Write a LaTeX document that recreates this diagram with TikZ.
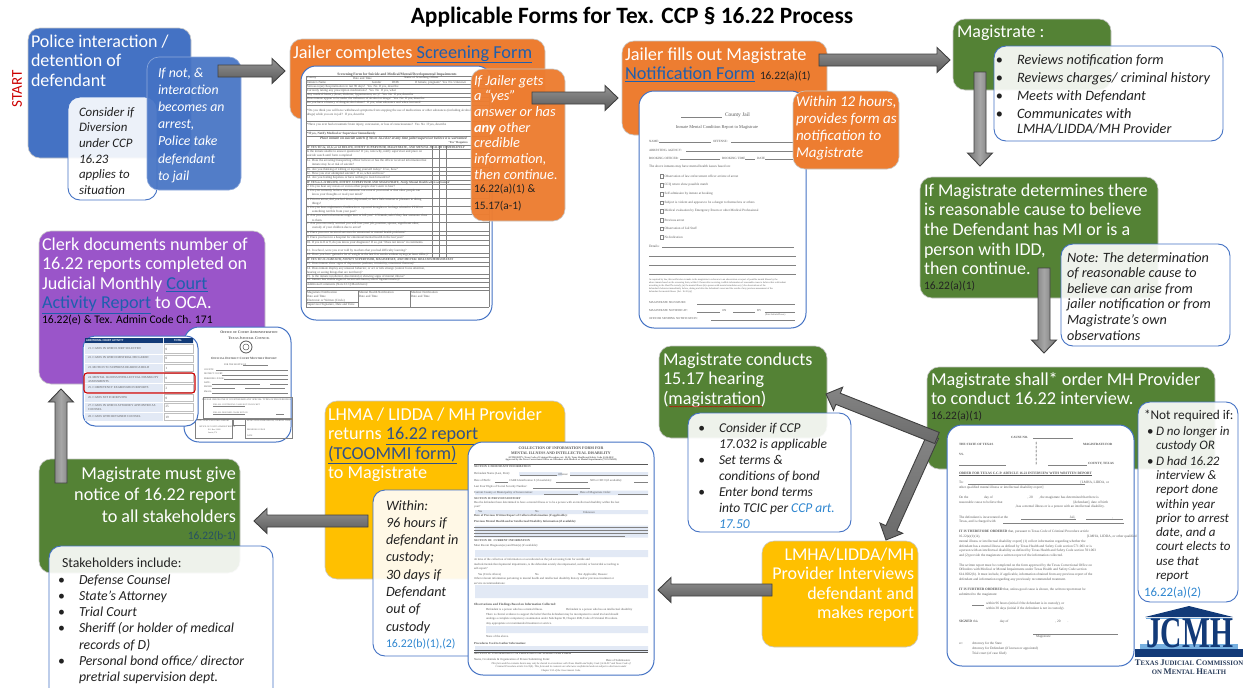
\documentclass[tikz,border=0pt]{standalone}
\usepackage{fontspec}
\setmainfont{Carlito}
\newfontfamily\formfont{Liberation Serif}
\usetikzlibrary{calc,decorations.pathmorphing}
\definecolor{cblue}{HTML}{4472C4}
\definecolor{corange}{HTML}{ED7D31}
\definecolor{cgreen}{HTML}{548235}
\definecolor{cyellow}{HTML}{FFC000}
\definecolor{cpurple}{HTML}{9A55C9}
\definecolor{cdark}{HTML}{222222}
\definecolor{clink}{HTML}{1F5FAE}
\definecolor{cref}{HTML}{2E86D0}
\definecolor{cnavy}{HTML}{123A78}
\definecolor{cform}{HTML}{585858}
\definecolor{cstripe}{HTML}{E2E9F5}
\tikzset{
  boxb/.style={anchor=north west,inner sep=0pt,outer sep=0pt,rounded corners=12pt,draw=black!22,line width=.6pt},
  sblue/.style={fill=cblue},
  sorange/.style={fill=corange},
  sgreen/.style={fill=cgreen},
  syellow/.style={fill=cyellow},
  spurple/.style={fill=cpurple},
  note/.style={fill=white,fill opacity=.9,draw=cblue,draw opacity=1,line width=.9pt},
  paper/.style={fill=white,draw=cblue,line width=1pt,rounded corners=15pt},
  txt/.style={anchor=north west,inner sep=0pt,outer sep=0pt,align=left},
  wt/.style={text=white},
  dk/.style={text=cdark},
  ital/.code={\def\txfontextra{\itshape}},
  rt/.style={anchor=north east,align=right},
  barrow/.style={draw=black!75,line width=.9pt,line join=miter},
  hgrad/.style={top color=black!42,bottom color=black!65},
  dgrad/.style={top color=black!48,bottom color=black!58},
  vgrad/.style={left color=black!55,right color=black!55,middle color=black!35},
  ftxt/.style={anchor=west,inner sep=0pt,outer sep=0pt,text=cform},
  fline/.style={draw=cform!75,line width=.3pt},
}
\def\txfontextra{}
\newcommand\bx[6][]{\node[boxb,#1,minimum width={#5-#3},minimum height={#6-#4}] (#2) at (#3,#4) {};}
\newcommand\tx[7][]{\node[txt,#1,font=\fontsize{#5}{#6}\selectfont\txfontextra] (#2) at (#3,{#4-0.8*#5}) {\rule{0pt}{0.8em}#7};}
\newcommand\blockarrow[3][]{%
  \coordinate (tmpH) at ($(#3)!13pt!(#2)$);
  \draw[barrow,#1] ($(#2)!6pt!90:(#3)$) -- ($(tmpH)!6pt!90:(#3)$) -- ($(tmpH)!12.5pt!90:(#3)$) -- (#3)
    -- ($(tmpH)!12.5pt!-90:(#3)$) -- ($(tmpH)!6pt!-90:(#3)$) -- ($(#2)!6pt!-90:(#3)$) -- cycle;}
\newcounter{fl}
\newcommand\fl[4]{\stepcounter{fl}\node[ftxt,font=\fontsize{#3}{#3}\formfont] (f\arabic{fl}) at (#1,#2) {#4};}
\newcommand\fc[4]{\stepcounter{fl}\node[ftxt,anchor=center,font=\fontsize{#3}{#3}\formfont] (f\arabic{fl}) at (#1,#2) {#4};}
\newcommand\lnk[2][clink]{{\color{#1}\underline{#2}}}
\newcommand\bul{\llap{\upshape\textbullet\hspace{14pt}}}
\newcommand\sbul{\llap{\upshape\textbullet\hspace{2.5pt}}}
\begin{document}
\begin{tikzpicture}[x=1pt,y=-1pt]
\useasboundingbox (0,0) rectangle (1243,688);
\fill[white] (0,0) rectangle (1243,688);
% title
\node[inner sep=0pt,font=\fontsize{23.4}{24}\selectfont\bfseries] (title) at (632,17) {Applicable Forms for Tex. CCP § 16.22 Process};
\node[rotate=90,inner sep=0pt,text=red!80!black,font=\fontsize{15}{15}\selectfont] (start) at (17,89) {START};

% ---- police
\bx[sblue]{police}{28}{28}{191}{158}
\tx[wt]{policet}{31}{47}{18}{19.7}{Police interaction /\\detention of\\defendant}
\bx[note]{divert}{68}{97}{157}{200}
\tx[dk,ital]{divertt}{79}{116}{12.9}{15.7}{Consider if\\Diversion\\under CCP\\16.23\\applies to\\situation}
\bx[sblue,fill opacity=.92,draw=cblue!60]{ifnot}{147}{57}{241}{190}
\tx[wt,ital]{ifnott}{158}{77}{13.8}{17.2}{If not, \&\\interaction\\becomes an\\arrest,\\Police take\\defendant\\to jail}

% ---- jailer screening
\bx[sorange]{jailer}{290}{39}{545}{119}
\tx[wt]{jailert}{293}{58}{18.3}{20}{Jailer completes \lnk[clink]{Screening Form}}
\bx[paper]{sform}{301}{66}{492}{320}
\fc{397}{74.5}{3.6}{\bfseries Screening Form for Suicide and Medical/Mental/Developmental Impairments}
\foreach \yy in {76,80.5,84.5,88.5,93,97,101,105,121,130,136,145,149.5}{\draw[fline] (306,\yy)--(489,\yy);}
\foreach \yy in {158,167,171.5,175.5,180,184.5,189,198,206,214,222,231,235.5,240,245,253,257.5,262,266.5,274.5,278.5,282.5,287,290,307}{\draw[fline] (306,\yy)--(489,\yy);}
\draw[fline] (306,76)--(306,307) (489,76)--(489,307) (432,145)--(432,258) (439,145)--(439,258) (446,145)--(446,258);
\draw[fline] (358,290)--(358,307) (410,290)--(410,307) (306,302)--(358,302);
\fl{307}{78.2}{3.2}{County}\fl{353}{78.2}{3.2}{Date and Time}\fl{404}{78.2}{3.2}{Name of Screening Officer}
\fl{307}{82.7}{3.2}{Inmate's Name}\fl{372}{82.7}{3.2}{Gender}\fl{392}{82.7}{3.2}{DOB}\fl{415}{82.7}{3.2}{If female, pregnant?\, Yes\, No\, Unknown}
\fl{307}{86.7}{3.2}{Serious injury/hospitalization in last 90 days? \ Yes \ No \ If yes, describe}
\fl{307}{91}{3.2}{Currently taking any prescription medications? \ Yes \ No \ If yes, what}
\fl{307}{95}{3.2}{Any medical history (heart, diabetes, hypertension, etc.)? \ Yes \ No \ If yes, describe}
\fl{307}{99}{3.2}{Does inmate appear to be under the influence of alcohol or drugs? \ Yes \ No \ If yes, describe}
\fl{307}{103}{3.2}{Do you have a history of drug/alcohol abuse? \ If yes, what substance and when last used}
\fl{307}{111}{3.2}{*Do you think you will have withdrawal symptoms from stopping the use of medications or other substances (including alcohol and}
\fl{307}{115}{3.2}{drugs) while you are in jail? \ If yes, describe}
\fl{307}{125}{3.2}{*Have you ever had a traumatic brain injury, concussion, or loss of consciousness? \ Yes \ No \ If yes, describe}
\fl{307}{134}{3.2}{\bfseries *If yes, Notify Medical or Supervisor Immediately}
\fl{320}{138.7}{3.6}{\bfseries\itshape Place inmate on suicide watch if Yes to 1a-1d or at any time jailer/supervisor believe it is warranted}
\fl{448}{143}{3}{\bfseries "Yes" Requires}
\fl{307}{147.3}{3.1}{\bfseries\itshape IF YES TO 1a, 1b,1c,or 1d BELOW, NOTIFY SUPERVISOR, MAGISTRATE, AND MENTAL HEALTH IMMEDIATELY}
\fl{307}{151.7}{3.2}{Is the inmate unable to answer questions? If yes, note why, notify supervisor and place on}
\fl{307}{155.7}{3.2}{suicide watch until form completed}
\fl{307}{160.7}{3.2}{1a. Does the arresting/transporting officer believe or has the officer received information that}
\fl{312}{164.7}{3.2}{inmate may be at risk of suicide?}
\fl{307}{169.3}{3.2}{1b. Are you thinking of killing or injuring yourself today? \ If so, how?}
\fl{307}{173.3}{3.2}{1c. Have you ever attempted suicide? \ If so, when and how?}
\fl{307}{177.7}{3.2}{1d. Are you feeling hopeless or have nothing to look forward to?}
\fl{307}{182.7}{3.1}{\bfseries\itshape IF YES to 2-12 BELOW, NOTIFY SUPERVISOR AND MAGISTRATE, Notify Mental Health when warranted}
\fl{307}{186.7}{3.2}{2. Do you hear any noises or voices other people don't seem to hear?}
\fl{307}{191}{3.2}{3. Do you currently believe that someone can control your mind or that other people can}
\fl{312}{195}{3.2}{know your thoughts or read your mind?}
\fl{307}{200}{3.2}{4. Prior to arrest, did you feel down, depressed, or have little interest or pleasure in doing}
\fl{312}{204}{3.2}{things?}
\fl{307}{208}{3.2}{5. Do you have nightmares, flashbacks or repeated thoughts or feelings related to PTSD or}
\fl{312}{212}{3.2}{something terrible from your past?}
\fl{307}{216}{3.2}{6. Are you worried someone might hurt or kill you? \ If female, ask if they fear someone close}
\fl{312}{220}{3.2}{to them.}
\fl{307}{224}{3.2}{7. Are you extremely worried you will lose your job, position, spouse, significant other,}
\fl{312}{228}{3.2}{custody of your children due to arrest?}
\fl{307}{233}{3.2}{8. Have you ever received services for emotional or mental health problems?}
\fl{307}{237.7}{3.2}{9. Have you been in a hospital for emotional/mental health in the last year?}
\fl{307}{242.3}{3.2}{10. If yes to 8 or 9, do you know your diagnosis? If so, put "Does not know" in comments.}
\fl{307}{250.3}{3.2}{11. In school, were you ever told by teachers that you had difficulty learning?}
\fl{307}{255}{3.2}{12. Have you lost / gained a lot of weight in the last few weeks without trying (at least 10lbs.)?}
\fl{307}{259.7}{3.1}{\bfseries\itshape IF YES TO 13-16 BELOW, NOTIFY SUPERVISOR, MAGISTRATE, AND MENTAL HEALTH IMMEDIATELY}
\fl{307}{264}{3.2}{13. Does inmate show signs of depression (sadness, irritability, emotional flatness)?}
\fl{307}{268.7}{3.2}{14. Does inmate display any unusual behavior, or act or talk strange (cannot focus attention,}
\fl{307}{272.3}{3.2}{hearing or seeing things that are not there)?}
\fl{307}{276.3}{3.2}{15. Is the inmate incoherent, disoriented or showing signs of mental illness?}
\fl{307}{280}{3.2}{16. Inmate has visible signs of recent self-harm (cuts or ligature marks)?}
\fl{307}{284.5}{3.2}{Additional Comments (Note CCQ Match here):}
\fl{307}{292.5}{3.2}{Magistrate Notification}\fl{359}{292.5}{3.2}{Mental Health Notification}\fl{411}{292.5}{3.2}{Medical Notification}
\fl{307}{296.7}{3.2}{Date and Time}\fl{359}{296.7}{3.2}{Date and Time}\fl{411}{296.7}{3.2}{Date and Time}
\fl{307}{300.7}{3.2}{Electronic or Written (Circle)}
\fl{307}{304.5}{3.2}{Supervisor Signature, Date and Time}
\bx[sorange,fill opacity=.97]{ifjail}{471}{69}{565}{221}
\tx[wt,ital]{ifjailt}{474}{85}{14.4}{15.7}{If Jailer gets\\a “yes”\\answer or has\\{\bfseries any} other\\credible\\information,\\then continue.}
\tx[dk]{ifjailr}{474}{192}{11.4}{17.3}{16.22(a)(1) \&\\15.17(a-1)}

% ---- notification
\bx[sorange]{notif}{622}{41}{827}{135}
\tx[wt]{notift}{625}{60}{18.3}{19.7}{Jailer fills out Magistrate\\\lnk{Notification Form}}
\tx[dk]{notifr}{760}{79}{11.3}{13}{16.22(a)(1)}
\bx[paper]{nform}{639}{91}{806}{328}
\draw[fline] (681,117)--(722,117);
\fl{725}{115}{5.4}{County Jail}
\fc{717}{127}{4.4}{Inmate Mental Condition Report to Magistrate}
\fl{649}{141}{3.2}{NAME:}\draw[fline] (659,142)--(711,142) (731,142)--(795,142);\fl{713}{141}{3.2}{OFFENSE:}
\fl{649}{150}{3.2}{ARRESTING AGENCY:}\draw[fline] (686,151)--(795,151);
\fl{649}{158.5}{3.2}{BOOKING OFFICER:}\draw[fline] (680,159.5)--(720,159.5) (745,159.5)--(755,159.5) (765,159.5)--(795,159.5);\fl{722}{158.5}{3.2}{BOOKING TIME}\fl{757}{158.5}{3.2}{DATE}
\fl{649}{167}{3.4}{The above inmates may have mental health issues based on:}
\foreach \yy/\tt in {176/Observation of law enforcement officer at time of arrest,185/CCQ return show possible match,194/Self admission by inmate at booking,202.5/Subject is violent and appears to be a danger to themselves or others,211/Medical evaluation by Emergency Room or other Medical Professional,220/Previous arrest/medical records of the jail,228.5/Observation of Jail Staff,237/No Indication/No Notification Made}{
  \draw[fline,line width=.4pt] (660,{\yy-1.8}) rectangle (663.5,{\yy+1.8});
  \fl{664.5}{\yy}{3.3}{\tt}}
\fl{649}{246}{3.4}{Details:}
\draw[fline] (662,247)--(794,247) (649,256)--(796,256) (649,265)--(796,265) (649,274)--(796,274);
\fl{649}{280}{2.4}{As required by law, this notification is made to the magistrate in reference to an observation or report of possible mental illness by the}
\fl{649}{283}{2.4}{above inmate based on the screening form, within 12 hours after receiving credible information of reasonable cause to believe that a defendant}
\fl{649}{286}{2.4}{according to the Sheriff's custody; (a) the mental illness (b) a person with mental retardation or (c) the observations of the}
\fl{649}{289}{2.4}{defendant's behavior immediately before, during and after the defendant's arrest and the results of any previous assessment of the}
\fl{649}{292}{2.4}{defendant for mental illness. [Art. 16.22 (a)]}
\fl{649}{303}{3}{MAGISTRATE SIGNATURE:}\draw[fline] (697,304)--(795,304);
\fl{649}{311}{3}{MAGISTRATE NOTIFIED AT:}\draw[fline] (697,312)--(720,312) (733,312)--(755,312) (765,312)--(795,312);\fl{722}{311}{3}{ON}\fl{757}{311}{3}{BY}
\fl{765}{315}{2.4}{(Print Initials/Please)}
\fl{649}{319}{3}{OFFICER SENDING NOTIFICATION:}\draw[fline] (711,320)--(795,320);
\bx[sorange]{within12}{793}{91}{899}{169}
\tx[wt,ital]{within12t}{796}{106}{15}{17.1}{Within 12 hours,\\provides form as\\notification to\\Magistrate}

% ---- magistrate
\bx[sgreen]{magis}{953}{19}{1111}{90}
\tx[wt]{magist}{957}{37}{18}{19}{Magistrate :}
\bx[note]{review}{994}{46}{1223}{141}
\tx[dk,ital]{reviewt}{1017}{64}{14.3}{18}{\bul Reviews notification form\\\bul Reviews charges/ criminal history\\\bul Meets with Defendant\\\bul Communicates with\\[-2.6pt]LMHA/LIDDA/MH Provider}

\bx[sgreen]{determ}{920}{177}{1158}{298}
\tx[wt]{determt}{924}{196}{18}{19.7}{If Magistrate determines there\\is reasonable cause to believe\\the Defendant has MI or is a\\person with IDD,\\then continue.}
\tx[dk]{determr}{924}{289}{11.4}{13}{16.22(a)(1)}
\bx[note]{noteb}{1061}{244}{1230}{346}
\tx[dk,ital]{notet}{1067}{262}{14.2}{15.6}{Note: The determination\\of reasonable cause to\\believe can arise from\\jailer notification or from\\Magistrate’s own\\observations}

% ---- order
\bx[sgreen]{shall}{927}{367}{1215}{469}
\tx[wt]{shallt}{931}{385}{18.25}{19.7}{Magistrate shall* order MH Provider\\to conduct 16.22 interview.}
\tx[dk]{shallr}{931}{419}{11.4}{13}{16.22(a)(1)}
\bx[paper]{oform}{947}{425}{1134}{666}
\fl{1011}{437}{3.2}{\bfseries CAUSE NO.}\draw[fline] (1033,438)--(1073,438);
\fl{959}{444.3}{3.2}{\bfseries THE STATE OF TEXAS}\fl{1083}{444.3}{3.2}{\bfseries MAGISTRATE FOR}
\foreach \yy in {444,448,452,456,460,464}{\fl{1035.5}{\yy}{3.2}{\bfseries §}}
\fl{959}{454}{3.2}{\bfseries VS.}
\draw[fline] (959,465)--(1006,465) (1048,465)--(1087,465);\fl{1088}{464}{3.2}{\bfseries COUNTY, TEXAS}
\fl{959}{474}{3.45}{\bfseries\underline{ORDER FOR TEXAS C.C.P. ARTICLE 16.22 INTERVIEW WITH WRITTEN REPORT}}
\fl{959}{483}{3.45}{To: \hspace{116pt}[LMHA, LIDDA, or}\draw[fline] (968,484.5)--(1085,484.5);
\fl{959}{488}{3.45}{other qualified mental illness or intellectual disability expert]}
\fl{959}{497.7}{3.45}{On the \hspace{14pt} day of \hspace{34pt}, 20\hspace{6pt}, the magistrate has determined that there is}
\fl{959}{502.3}{3.45}{reasonable cause to believe that \hspace{70pt}[defendant], date of birth}
\fl{1015}{507}{3.45}{, has a mental illness or is a person with an intellectual disability.}
\fl{959}{517.3}{3.45}{The defendant is incarcerated at the \hspace{60pt} Jail, \hspace{36pt},}
\fl{959}{522}{3.45}{Texas, and is charged with}\draw[fline] (1003,523.5)--(1124,523.5) (1021,518.8)--(1076,518.8) (1086,518.8)--(1123,518.8);
\fl{959}{532}{3.45}{{\bfseries IT IS THEREFORE ORDERED} that, pursuant to Texas Code of Criminal Procedure article}
\fl{959}{537}{3.45}{16.22(a)(1)(A), \hspace{106pt}[LMHA, LIDDA, or other qualified}
\fl{959}{541.7}{3.45}{mental illness or intellectual disability expert] (1) collect information regarding whether the}
\fl{959}{546.4}{3.45}{defendant has a mental illness as defined by Texas Health and Safety Code section 571.003 or is}
\fl{959}{551.1}{3.45}{a person with an intellectual disability as defined by Texas Health and Safety Code section 591.003}
\fl{959}{555.8}{3.45}{and (2) provide the magistrate a written report of the information collected.}
\fl{959}{565.3}{3.45}{The written report must be completed on the form approved by the Texas Correctional Office on}
\fl{959}{570}{3.45}{Offenders with Medical or Mental Impairments under Texas Health and Safety Code section}
\fl{959}{574.8}{3.45}{614.0032(b). It must include, if applicable, information obtained from any previous report of the}
\fl{959}{579.5}{3.45}{defendant and information regarding any previously recommended treatment.}
\fl{959}{590}{3.45}{{\bfseries IT IS FURTHER ORDERED} that, unless good cause is shown, the written report must be}
\fl{959}{595}{3.45}{submitted to the magistrate:}
\draw[fline] (972,605.5)--(984,605.5);
\fl{986}{604}{3.45}{within 96 hours (initial if the defendant is in custody), or}
\fl{986}{609}{3.45}{within 30 days (initial if the defendant is not in custody).}
\fl{959}{622}{3.45}{{\bfseries SIGNED} this \hspace{20pt} day of \hspace{46pt}, 20\hspace{7pt}.}
\draw[fline] (1033,634)--(1118,634);
\fl{1036}{637}{3.45}{Magistrate}
\fl{959}{644}{3.45}{cc:}\fl{972}{644}{3.45}{Attorney for the State}\fl{972}{649}{3.45}{Attorney for Defendant (if known or appointed)}\fl{972}{654}{3.45}{Trial court (of case filed)}
\bx[note]{notreq}{1138}{402}{1238}{602}
\tx[dk]{notreqh}{1144}{419}{13.3}{16}{*Not required if:}
\tx[dk,ital]{notreqt}{1156}{435.5}{13}{14.3}{\sbul D no longer in\\custody OR\\[1pt]\sbul D had 16.22\\interview \&\\report done\\within year\\prior to arrest\\date, and a\\court elects to\\use that\\report}
\tx[text=cref]{notreqr}{1144}{596}{12.8}{15}{16.22(a)(2)}

% logo
\fill[cnavy] (1145,617) -- (1189,606) -- (1233,617) -- cycle;
\draw[cref!70,line width=.8pt] (1146,618.6)--(1232,618.6);
\fill[cref!65!white] (1140,644) rectangle (1238,648.5);
\fill[cnavy] (1135,649) rectangle (1243,657);
\node[inner sep=0pt,text=cnavy,font=\fontsize{39}{39}\formfont\bfseries] (jcmh) at (1189.5,633) {\resizebox{87pt}{29pt}{JCMH}};
\node[inner sep=0pt,text=black!35!cnavy!75!gray,font=\formfont\bfseries] (jcmh1) at (1189,662.3) {\fontsize{8.6}{8}\selectfont T\fontsize{6.8}{8}\selectfont EXAS \fontsize{8.6}{8}\selectfont J\fontsize{6.8}{8}\selectfont UDICIAL \fontsize{8.6}{8}\selectfont C\fontsize{6.8}{8}\selectfont OMMISSION};
\node[inner sep=0pt,text=black!35!cnavy!75!gray,font=\formfont\bfseries] (jcmh2) at (1189,671.7) {\fontsize{6.8}{8}\selectfont ON \fontsize{8.6}{8}\selectfont M\fontsize{6.8}{8}\selectfont ENTAL \fontsize{8.6}{8}\selectfont H\fontsize{6.8}{8}\selectfont EALTH};

% ---- hearing
\bx[sgreen]{hearing}{659}{346}{827}{438}
\tx[wt]{hearingt}{663}{365}{18.1}{19.7}{Magistrate conducts\\15.17 hearing\\(magistration)}
\draw[red!80!black,line width=.4pt,decorate,decoration={snake,amplitude=.5pt,segment length=2.5pt}] (669,406.5)--(762,406.5);
\bx[note]{consid}{688}{413}{851}{532}
\tx[dk,ital]{considt}{719}{432}{13.5}{16}{\bul Consider if CCP\\17.032 is applicable\\\bul Set terms \&\\conditions of bond\\\bul Enter bond terms\\into TCIC per {\color{cref}CCP art.}\\{\color{cref}17.50}}

% ---- provider
\bx[syellow]{provider}{762}{541}{918}{647}
\tx[wt,rt]{providert}{914}{560}{18}{19.6}{LMHA/LIDDA/MH\\Provider Interviews\\defendant and\\makes report}

% ---- returns
\bx[syellow]{returns}{325}{401}{565}{579}
\tx[wt]{returnst}{328}{420}{18.2}{19.6}{LHMA / LIDDA / MH Provider\\returns \lnk[cblue!70!black]{16.22 report}\\\lnk[cblue!70!black]{(TCOOMMI form)}\\to Magistrate}
\bx[note]{within}{373}{490}{482}{656}
\tx[dk,ital]{withint}{386}{510}{14.2}{17.3}{Within:\\96 hours if\\defendant in\\custody;\\30 days if\\Defendant\\out of\\custody}
\tx[text=cref]{withinr}{386}{647}{11.8}{14}{16.22(b)(1),(2)}
\bx[paper]{rform}{468}{442}{654}{675}
\fc{561}{448}{3.9}{\bfseries COLLECTION OF INFORMATION FORM FOR}
\fc{561}{453}{3.9}{\bfseries MENTAL ILLNESS AND INTELLECTUAL DISABILITY}
\fc{561}{457.5}{2.4}{\bfseries AUTHORITY: Texas Code of Criminal Procedure art. 16.22; Texas Health and Safety Code § 614.0032}
\fc{561}{460.3}{2.4}{\bfseries Approved by the Texas Correctional Office on Offenders with Medical or Mental Impairments (TCOOMMI)}
\draw[cform,line width=.9pt] (474,464)--(648,464);
\fill[cstripe] (519,472) rectangle (562,476) (570,472) rectangle (648,476) (475,490.5) rectangle (648,495) (475,510) rectangle (648,514) (475,525.5) rectangle (648,537.5) (475,550) rectangle (648,557) (475,585) rectangle (648,598) (486,626) rectangle (648,633) (475,646) rectangle (648,652);
\fl{474}{467}{2.9}{\bfseries SECTION I: DEFENDANT INFORMATION}
\fl{474}{474}{3}{Defendant Name (Last, First):}\fl{558}{474}{3}{Offense:}
\fl{474}{480.7}{3}{Date of Birth:}\fl{509}{480.7}{2.9}{CARE Identification \# (if available):}\fl{590}{480.7}{2.9}{SID or CID \# (if available):}
\fl{474}{487}{3}{Last Four Digits of Social Security Number:}
\draw[fline] (533,488)--(590,488) (495,482)--(508,482) (556,482)--(588,482) (634,482)--(648,482) (520,475)--(557,475) (570,475)--(648,475);
\fl{474}{493}{3}{Current County or Municipality of Incarceration:}\fl{580}{493}{3}{Date of Magistrate Order:}
\draw[fline] (544,494)--(578,494) (618,494)--(648,494);
\fl{474}{499}{2.9}{\bfseries SECTION II: PREVIOUS HISTORY}
\fl{474}{503}{3}{Has the defendant been determined to have a mental illness or to be a person with an intellectual disability within the last}
\fl{474}{507}{3}{year?}
\fl{478}{512}{3}{Yes}\fl{535}{512}{3}{No}\fl{583}{512}{3}{Unknown}
\fl{474}{516}{3}{\bfseries Date of Previous Written Report of Collected Information (if applicable):}
\fl{474}{522}{3}{\bfseries Previous Mental Health and/or Intellectual Disability Information (if available):}
\draw[fline] (474,527.5)--(648,527.5) (474,530.5)--(648,530.5) (474,533.5)--(648,533.5) (474,536.5)--(625,536.5);
\fl{474}{541}{2.9}{\bfseries SECTION III: \ CURRENT INFORMATION}
\fl{474}{546}{3}{Most Recent Diagnosis(es) and Date(s) (if available):}
\fl{474}{560}{3}{At time of the collection of information or as indicated on the jail screening form for suicide and}
\fl{474}{564.7}{3}{medical/mental/developmental impairments, is the defendant acutely decompensated, suicidal, or homicidal according to}
\fl{474}{568.7}{3}{self-report?}
\fl{478}{575}{3}{Yes (Circle Above)}\fl{535}{575}{3}{No}\fl{578}{575}{3}{Not Applicable; Reason:}
\fl{474}{579}{3}{Other relevant information pertaining to mental health and intellectual disability history and/or previous treatment or}
\fl{474}{583}{3}{service recommendations:}
\fl{474}{605}{3.2}{\bfseries Observations and Findings Based on Information Collected:}
\fl{486}{610}{3}{Defendant is a person who has a mental illness.}\fl{566}{610}{3}{Defendant is a person who has an intellectual disability}
\fl{486}{615}{3}{There is clinical evidence to support the belief that the defendant may be incompetent to stand trial and should}
\fl{486}{619}{3}{undergo a complete competency examination under Subchapter B, Chapter 46B, Code of Criminal Procedure.}
\fl{486}{624}{3}{Any appropriate or recommended treatment or service.}
\fl{486}{636}{3}{None of the above.}
\fl{474}{643}{3}{\bfseries Procedures Used to Gather Information:}
\draw[cform,line width=.6pt] (474,650.5)--(648,650.5) (474,652.5)--(648,652.5);
\fl{474}{653.5}{2.9}{\bfseries SECTION IV: INFORMATION OF PROFESSIONAL SUBMITTING FORM}
\fl{474}{660}{3}{Name, Credentials \& Organization of Person Submitting Form:}\fl{606}{660}{3}{Date of Submission:}
\fc{561}{664}{2.6}{\itshape This form and the contents herein may only be shared in accordance with Texas Health and Safety Code § 614.017 and Texas Code of}
\fc{561}{667}{2.6}{\itshape Criminal Procedure article 16.22(h). This form and its contents are otherwise confidential and not subject to disclosure under}
\fc{561}{670.5}{2.6}{\itshape Chapter 552 of the Government Code.}

% ---- notice
\bx[sgreen]{notice}{39}{459}{240}{573}
\tx[wt,rt]{noticet}{236}{479}{18.2}{21.6}{Magistrate must give\\notice of 16.22 report\\to all stakeholders}
\tx[rt,text=cnavy!70!cgreen]{noticer}{236}{539}{11.4}{13}{16.22(b-1)}
\bx[note]{stake}{49}{546}{273}{700}
\tx[dk]{staket}{62}{567}{13.8}{15}{Stakeholders include:}
\tx[dk,ital]{stakel}{79}{584}{13.8}{16.3}{\bul Defense Counsel\\\bul State’s Attorney\\\bul Trial Court\\\bul Sheriff (or holder of medical\\records of D)\\\bul Personal bond office/ director\\pretrial supervision dept.}

% ---- clerk
\bx[spurple]{clerk}{39}{231}{265}{384}
\tx[wt]{clerkt}{42}{250}{18.15}{19.6}{Clerk documents number of\\16.22 reports completed on\\Judicial Monthly \lnk[clink]{Court}\\\lnk[clink]{Activity Report} to OCA.}
\tx[text=black]{clerkr}{42}{323}{11.6}{13}{16.22(e) \& Tex. Admin Code Ch. 171}
\bx[paper]{cform1}{184}{327}{291}{442}
\fc{249}{332}{3.7}{\bfseries O\fontsize{3}{3}\selectfont FFICE OF \fontsize{3.7}{3.7}\selectfont C\fontsize{3}{3}\selectfont OURT \fontsize{3.7}{3.7}\selectfont A\fontsize{3}{3}\selectfont DMINISTRATION}
\fc{249}{338}{3.7}{\bfseries T\fontsize{3}{3}\selectfont EXAS \fontsize{3.7}{3.7}\selectfont J\fontsize{3}{3}\selectfont UDICIAL \fontsize{3.7}{3.7}\selectfont C\fontsize{3}{3}\selectfont OUNCIL}
\draw[cform,line width=.8pt] (246,347) circle (6);
\draw[cform,line width=.5pt] (246,347) circle (3);
\fc{244}{358}{3.2}{\bfseries O\fontsize{2.7}{3}\selectfont FFICIAL \fontsize{3.2}{3}\selectfont D\fontsize{2.7}{3}\selectfont ISTRICT \fontsize{3.2}{3}\selectfont C\fontsize{2.7}{3}\selectfont OURT \fontsize{3.2}{3}\selectfont M\fontsize{2.7}{3}\selectfont ONTHLY \fontsize{3.2}{3}\selectfont R\fontsize{2.7}{3}\selectfont EPORT}
\fl{224}{364.5}{2.3}{FOR THE MONTH OF}\draw[fline] (243,365.5)--(268,365.5);
\fl{204}{369.5}{2.3}{COUNTY:}\fl{204}{374}{2.3}{DISTRICT COURT:}\fl{204}{378.3}{2.3}{PRESIDING JUDGE:}\fl{204}{382.7}{2.3}{DATE:}\fl{204}{387}{2.3}{PHONE:}\fl{204}{392}{2.3}{EMAIL:}
\draw[fline] (216,370.5)--(288,370.5) (222,375)--(288,375) (224,379.3)--(288,379.3) (212,383.7)--(260,383.7) (270,383.7)--(288,383.7) (212,388)--(235,388) (245,388)--(285,388) (212,393)--(288,393);
\draw[fline] (203,397) rectangle (292,418);
\fc{247}{400}{2.4}{PLEASE CHECK ONE IF COURT HEARD ANY SPECIAL TYPES OF PROCEEDINGS:}
\draw[fline] (213,406)--(245,406) (213,414)--(245,414) (276,414)--(284,414);
\fl{213}{405}{2.1}{FOR ALL CONTINUING CASES NOT ON DOCKET}\fl{213}{413}{2.1}{FOR ALL DISPOSED CASES NOT ON}
\draw[fline] (233,419) rectangle (245,425);
\draw[fline] (195,419) rectangle (232,438) (245,419) rectangle (292,438);
\fl{197}{421}{2.1}{THE COURT'S MONTHLY REPORT}\fl{247}{421}{2.1}{BY MY SIGNATURE BELOW, I CERTIFY THAT}\fl{247}{430}{2.1}{PRESIDING JUDGE}\fl{247}{436}{2.1}{DATE}
\fl{199}{427}{2.1}{OFFICE OF COURT ADMINISTRATION}\fl{208}{430}{2}{P.O. Box 12066}\fl{208}{433}{2}{Austin, TX}
\bx[paper,rounded corners=12pt]{cform2}{83}{336}{198}{426}
\fill[cnavy] (85,338) rectangle (163,343) (164,338) rectangle (193,343);
\node[anchor=west,inner sep=0pt,text=white,font=\fontsize{3}{3}\bfseries] (ct1) at (86,340.6) {ADDITIONAL COURT ACTIVITY};
\node[inner sep=0pt,text=white,font=\fontsize{3}{3}\bfseries] (ct2) at (178,340.6) {TOTAL};
\foreach \ya/\yb/\yt/\tta/\ttb in {344/354/349/21. CASES IN WHICH JURY SELECTED/0,354.5/363/358/22. CASES IN WHICH MISTRIAL DECLARED/0,363.5/372/368/23. MOTION TO SUPPRESS HEARINGS HELD/1,373/383/378/{24. MENTAL ILLNESS/INTELLECTUAL DISABILITY}/0,383.5/393/388/25. COMPETENCY EXAMINATION REPORTS/2,393.5/402/398/26. CASES SET FOR REVIEW/0,402.5/412/406/27. CASES IN WHICH ATTORNEY APPOINTED AS/25,412.5/421/417/28. CASES WITH RETAINED COUNSEL/19}{
  \fill[cstripe] (85,\ya) rectangle (163,\yb);
  \draw[fline,draw=black!25] (164,\ya+.4) rectangle (193,\yb-.4);
  \fl{88}{\yt}{3}{\tta}
  \fl{165.5}{\yt}{3.3}{\ttb}}
\fl{88}{381.5}{3}{ASSESSMENTS}
\fl{88}{410}{3}{COUNSEL}
\draw[red!80!black,line width=1.1pt,rounded corners=3pt] (84,373) rectangle (195,393);

% ---- arrows
\coordinate (a1s) at (218,71);   \coordinate (a1t) at (285,71);
\coordinate (a2s) at (532,98);   \coordinate (a2t) at (618,98);
\coordinate (a3s) at (819,60);   \coordinate (a3t) at (950,60);
\coordinate (a4s) at (980,72);   \coordinate (a4t) at (980,166);
\coordinate (a5s) at (1044,268); \coordinate (a5t) at (1044,353);
\coordinate (a6s) at (937,438);  \coordinate (a6t) at (826,394);
\coordinate (a7s) at (933,436);  \coordinate (a7t) at (886,540);
\coordinate (a8s) at (772,590);  \coordinate (a8t) at (658,590);
\coordinate (a9s) at (368,521);  \coordinate (a9t) at (254,521);
\coordinate (a10s) at (61,483);  \coordinate (a10t) at (61,389);
\blockarrow[hgrad]{a1s}{a1t}
\blockarrow[hgrad]{a2s}{a2t}
\blockarrow[hgrad]{a3s}{a3t}
\blockarrow[vgrad]{a4s}{a4t}
\blockarrow[vgrad]{a5s}{a5t}
\blockarrow[dgrad]{a7s}{a7t}
\blockarrow[dgrad]{a6s}{a6t}
\blockarrow[hgrad]{a8s}{a8t}
\blockarrow[hgrad]{a9s}{a9t}
\blockarrow[vgrad]{a10s}{a10t}
\end{tikzpicture}
\end{document}
